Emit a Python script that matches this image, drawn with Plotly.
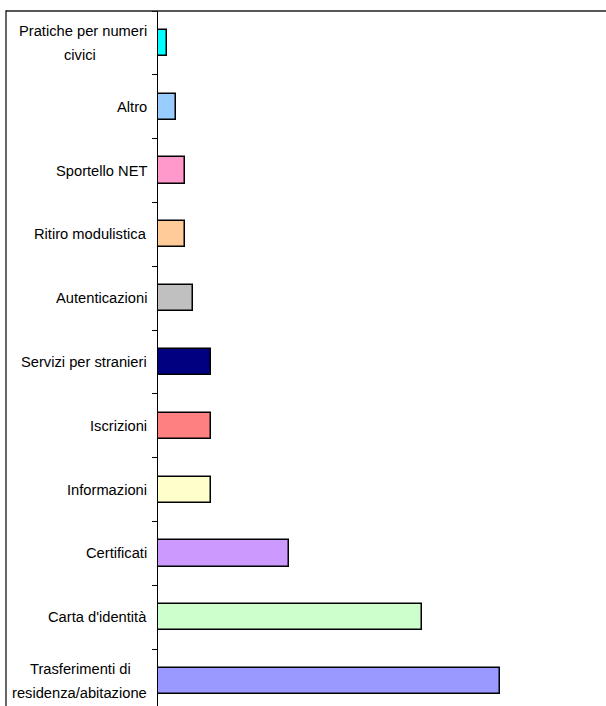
import plotly.graph_objects as go

# Categories listed bottom-to-top along the category axis
categorie = [
    "Trasferimenti di residenza/abitazione",
    "Carta d'identità",
    "Certificati",
    "Informazioni",
    "Iscrizioni",
    "Servizi per stranieri",
    "Autenticazioni",
    "Ritiro modulistica",
    "Sportello NET",
    "Altro",
    "Pratiche per numeri civici",
]
valori = [38.9, 30.0, 14.9, 6.0, 6.0, 6.0, 4.0, 3.1, 3.1, 2.1, 1.0]
colori = [
    "#9999FF", "#CCFFCC", "#CC99FF", "#FFFFCC", "#FF8080", "#000080",
    "#C0C0C0", "#FFCC99", "#FF99CC", "#99CCFF", "#00FFFF",
]
# Label lines as they are wrapped next to the axis
righe_etichette = [
    ["Trasferimenti di", "residenza/abitazione"],
    ["Carta d'identità"],
    ["Certificati"],
    ["Informazioni"],
    ["Iscrizioni"],
    ["Servizi per stranieri"],
    ["Autenticazioni"],
    ["Ritiro modulistica"],
    ["Sportello NET"],
    ["Altro"],
    ["Pratiche per numeri", "civici"],
]

W, H = 606, 706
L, T = 158, 11
plot_w = W - L

FONT = "Liberation Sans, Arial, sans-serif"
FS = 14.7

fig = go.Figure(
    go.Bar(
        x=valori,
        y=categorie,
        orientation="h",
        width=0.41,
        marker=dict(color=colori, line=dict(color="black", width=1.5)),
        hoverinfo="x+y",
    )
)

annotations = []
for cat, righe in zip(categorie, righe_etichette):
    if len(righe) == 1:
        annotations.append(dict(
            x=0, xref="paper", y=cat, yref="y", text=righe[0],
            xanchor="right", yanchor="middle", xshift=-9, showarrow=False,
            font=dict(family=FONT, size=FS, color="black"),
        ))
    else:
        lunga = max(righe, key=len)
        for i, riga in enumerate(righe):
            ys = 12 if i == 0 else -12
            if riga == lunga:
                annotations.append(dict(
                    x=0, xref="paper", y=cat, yref="y", text=riga,
                    xanchor="right", yanchor="middle", xshift=-9, yshift=ys,
                    showarrow=False,
                    font=dict(family=FONT, size=FS, color="black"),
                ))
            else:
                annotations.append(dict(
                    x=(80 - L) / plot_w, xref="paper", y=cat, yref="y", text=riga,
                    xanchor="center", yanchor="middle", yshift=ys,
                    showarrow=False,
                    font=dict(family=FONT, size=FS, color="black"),
                ))

# Outer chart frame (top and left edges)
xf = (6 - L) / plot_w
shapes = [
    dict(type="line", xref="paper", yref="paper", x0=xf, x1=1.05, y0=1, y1=1,
         line=dict(color="#202020", width=1.6), layer="above"),
    dict(type="line", xref="paper", yref="paper", x0=xf, x1=xf, y0=1.001, y1=-0.05,
         line=dict(color="black", width=1.2), layer="above"),
]

fig.update_layout(
    width=W, height=H, autosize=False,
    margin=dict(l=L, r=0, t=T, b=0, pad=0),
    paper_bgcolor="white", plot_bgcolor="white",
    showlegend=False,
    bargap=0,
    annotations=annotations,
    shapes=shapes,
    xaxis=dict(visible=False, range=[0, plot_w / 8.8], fixedrange=True),
    yaxis=dict(
        categoryorder="array", categoryarray=categorie,
        range=[-0.39, 10.5],
        showticklabels=False,
        ticks="outside", tickson="boundaries", ticklen=5, tickcolor="black", tickwidth=1,
        showline=True, linecolor="black", linewidth=1,
        showgrid=False, zeroline=False, fixedrange=True,
    ),
)

fig.write_html("out.html")
